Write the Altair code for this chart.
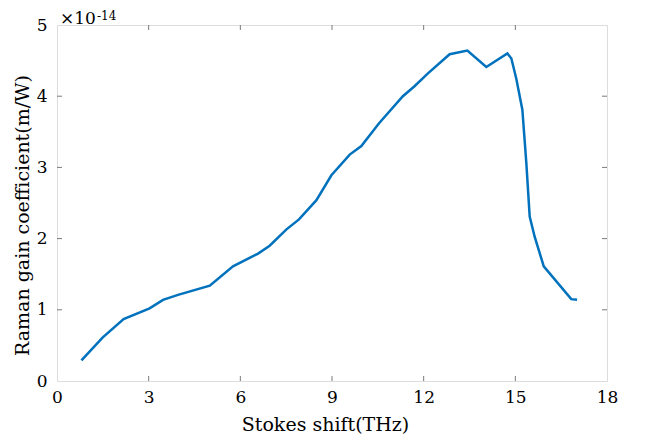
import altair as alt
import pandas as pd

# Stokes shift (THz) and Raman gain coefficient (x1e-14 m/W)
shift = [0.80, 1.49, 2.18, 3.03, 3.47, 3.96, 5.00, 5.76, 6.58, 6.96, 7.51, 7.92,
         8.49, 8.98, 9.58, 9.96, 10.54, 11.32, 11.70, 12.14, 12.85, 13.43, 14.05,
         14.74, 14.87, 15.03, 15.23, 15.36, 15.47, 15.63, 15.93, 16.83, 17.02]
gain = [0.29, 0.61, 0.87, 1.02, 1.14, 1.21, 1.34, 1.61, 1.79, 1.90, 2.13, 2.27,
        2.54, 2.89, 3.18, 3.30, 3.62, 4.00, 4.14, 4.32, 4.59, 4.64, 4.41,
        4.60, 4.53, 4.25, 3.81, 3.06, 2.31, 2.03, 1.61, 1.15, 1.14]

x_ticks = [0, 3, 6, 9, 12, 15, 18]
y_ticks = [0, 1, 2, 3, 4, 5]
x_inner = [3, 6, 9, 12, 15]
y_inner = [1, 2, 3, 4]

W, H = 550, 356
FONT = "DejaVu Serif"
AX = "#7a7a7a"

df = pd.DataFrame({"shift": shift, "gain": gain})

xs = alt.Scale(domain=[0, 18], nice=False, zero=False)
ys = alt.Scale(domain=[0, 5], nice=False)

line = alt.Chart(df).mark_line(color="#0072BD", strokeWidth=2.5).encode(
    x=alt.X("shift:Q", scale=xs,
            axis=alt.Axis(values=x_ticks, title="Stokes shift(THz)", grid=False,
                          ticks=False, domain=False, labelPadding=8, labelFlush=False,
                          labelOverlap=False, format="d",
                          labelFont=FONT, labelFontSize=17, labelColor="black",
                          titleFont=FONT, titleFontSize=19, titleFontWeight="normal",
                          titleColor="black", titleBaseline="alphabetic",
                          titleX=268, titleY=49)),
    y=alt.Y("gain:Q", scale=ys,
            axis=alt.Axis(values=y_ticks, title="Raman gain coefficient(m/W)", grid=False,
                          ticks=False, domain=False, labelPadding=10, labelFlush=False,
                          labelOverlap=False, format="d",
                          labelFont=FONT, labelFontSize=17, labelColor="black",
                          titleFont=FONT, titleFontSize=19, titleFontWeight="normal",
                          titleColor="black", titleBaseline="alphabetic",
                          titleAngle=-90, titleX=-29, titleY=190)),
)

xt = pd.DataFrame({"t": x_inner})
yt = pd.DataFrame({"t": y_inner})

xb = alt.Chart(xt).mark_rule(color=AX, strokeWidth=1).encode(
    x=alt.X("t:Q", scale=xs), y=alt.value(H), y2=alt.value(H - 5))
xtp = alt.Chart(xt).mark_rule(color=AX, strokeWidth=1).encode(
    x=alt.X("t:Q", scale=xs), y=alt.value(0), y2=alt.value(5))
yl = alt.Chart(yt).mark_rule(color=AX, strokeWidth=1).encode(
    y=alt.Y("t:Q", scale=ys), x=alt.value(0), x2=alt.value(5))
yr = alt.Chart(yt).mark_rule(color=AX, strokeWidth=1).encode(
    y=alt.Y("t:Q", scale=ys), x=alt.value(W), x2=alt.value(W - 5))

exp_base = alt.Chart(pd.DataFrame({"s": ["×10"]})).mark_text(
    font=FONT, fontSize=17, align="left", baseline="alphabetic", color="black"
).encode(text="s:N", x=alt.value(3), y=alt.value(-1))
exp_pow = alt.Chart(pd.DataFrame({"s": ["-14"]})).mark_text(
    font=FONT, fontSize=12, align="left", baseline="alphabetic", color="black"
).encode(text="s:N", x=alt.value(40), y=alt.value(-5))

chart = alt.layer(line, xb, xtp, yl, yr, exp_base, exp_pow).properties(
    width=W, height=H,
    autosize=alt.AutoSizeParams(type="none"),
    padding={"left": 49, "top": 17, "right": 20, "bottom": 60},
).configure_view(stroke=AX, strokeWidth=1).configure(background="white")

chart.save("out.html", embed_options={"renderer": "svg", "actions": False})
